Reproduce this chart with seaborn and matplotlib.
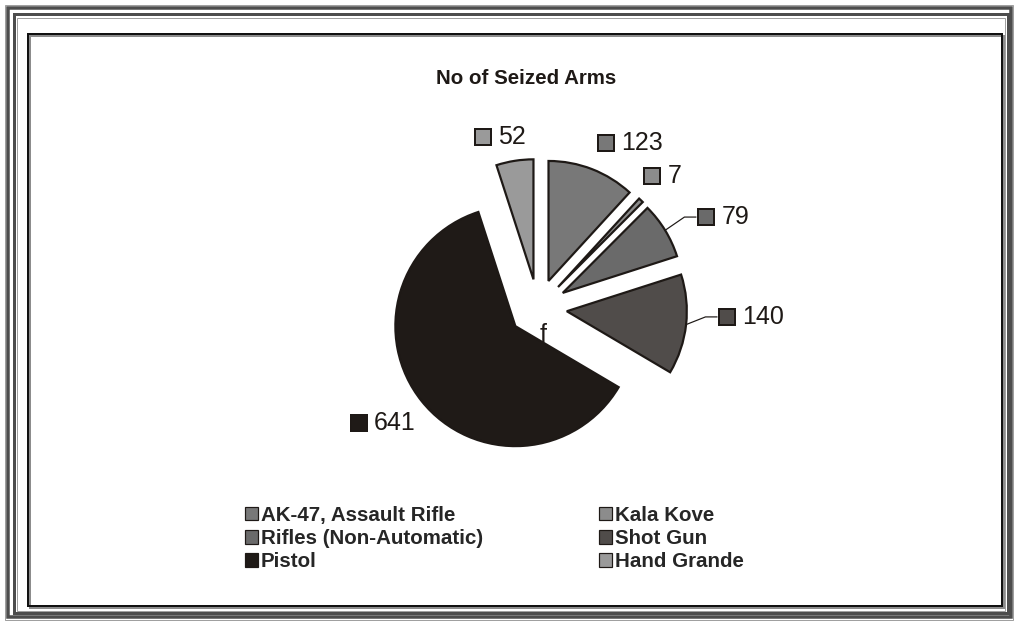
import numpy as np
import matplotlib
matplotlib.use("Agg")
import matplotlib.pyplot as plt
from matplotlib.patches import Rectangle, Patch
from matplotlib.offsetbox import AnnotationBbox, HPacker, TextArea, DrawingArea
import seaborn as sns

# Seized arms by type
categories = ["AK-47, Assault Rifle", "Kala Kove", "Rifles (Non-Automatic)",
              "Shot Gun", "Pistol", "Hand Grande"]
seized = [123, 7, 79, 140, 641, 52]
slice_colors = ["#787878", "#8c8c8c", "#6a6a6a", "#504c4a", "#1f1a17", "#9a9a9a"]
chart_title = "No of Seized Arms"

# label placement around the pie (radius multiples, clockwise turn in degrees)
label_dist = [1.57, 1.51, 1.72, 1.78, 1.61, 1.46]
label_turn = [7.9, -0.4, 5.3, -4.0, 2.1, -3.5]
with_leader = [False, False, True, True, False, False]

sns.set_theme(style="white")
plt.rcParams["font.family"] = ["Liberation Sans", "DejaVu Sans"]

INK = "#1e1916"
W, H, DPI = 1015, 621, 100
PT = 72 / DPI  # points per pixel

fig = plt.figure(figsize=(W / DPI, H / DPI), dpi=DPI)
fig.patch.set_facecolor("white")

# page frame, drawn in pixel units from the top-left corner
bg = fig.add_axes([0, 0, 1, 1])
bg.set_xlim(0, W)
bg.set_ylim(H, 0)
bg.axis("off")


def frame(x0, y0, x1, y1, color, lw_px):
    bg.add_patch(Rectangle((x0, y0), x1 - x0, y1 - y0, fill=False,
                           edgecolor=color, linewidth=lw_px * PT))


frame(5, 4.5, 1013.5, 619.5, "#a0a0a0", 1)
frame(8.5, 8, 1011.5, 616.5, "#4d4d4d", 3.5)
frame(14.5, 14, 1008, 613, "#4d4d4d", 3)
frame(17.5, 17.5, 1005.5, 610.5, "#a0a0a0", 1)
frame(30.5, 35.5, 1004, 608, "#8c8c8c", 2)
frame(28.5, 33.5, 1002, 606, "#111111", 2)

bg.text(526.5, 78, chart_title, ha="center", va="center", fontsize=14.8,
        fontweight="bold", color=INK)
bg.text(543, 335, "f", ha="center", va="center", fontsize=18, color=INK)

# pie axes: 1 data unit = R pixels
cx, cy, R = 538, 308, 120
half = 2.0
side = 2 * half * R
pie_ax = fig.add_axes([(cx - side / 2) / W, (H - cy - side / 2) / H, side / W, side / H])
explode = [29 / R] * len(seized)
wedges, _ = pie_ax.pie(seized, colors=slice_colors, explode=explode, startangle=90,
                       counterclock=False, radius=1,
                       wedgeprops=dict(edgecolor=INK, linewidth=2.2 * PT))
pie_ax.set_xlim(-half, half)
pie_ax.set_ylim(-half, half)
pie_ax.axis("off")

vals = np.asarray(seized, dtype=float)
frac = vals / vals.sum()
mid = (np.cumsum(frac) - frac / 2) * 360.0  # clockwise from 12 o'clock

boxes = []
for i, v in enumerate(seized):
    a = np.deg2rad(mid[i] + label_turn[i])
    x, y = label_dist[i] * np.sin(a), label_dist[i] * np.cos(a)
    key = DrawingArea(18 * PT, 18 * PT, 0, 0)
    key.add_artist(Rectangle((1 * PT, 1 * PT), 16 * PT, 16 * PT,
                             facecolor=slice_colors[i], edgecolor=INK,
                             linewidth=2 * PT))
    txt = TextArea(str(v), textprops=dict(fontsize=18, color=INK))
    pack = HPacker(children=[key, txt], align="center", pad=0, sep=6 * PT)
    ab = AnnotationBbox(pack, (x, y), xycoords="data", frameon=False,
                        box_alignment=(0.5, 0.5), pad=0)
    pie_ax.add_artist(ab)
    boxes.append(pack)

fig.canvas.draw()
renderer = fig.canvas.get_renderer()
inv = pie_ax.transData.inverted()
for i, pack in enumerate(boxes):
    if not with_leader[i]:
        continue
    bb = pack.get_window_extent(renderer)
    yc = (bb.y0 + bb.y1) / 2
    end = inv.transform((bb.x0 - 1, yc))
    elbow = inv.transform((bb.x0 - 13, yc))
    a = np.deg2rad(mid[i])
    ux, uy = np.sin(a), np.cos(a)
    tip = np.array([explode[i] * ux, explode[i] * uy])
    arc = tip + np.array([ux, uy])
    pie_ax.plot([arc[0], elbow[0], end[0]], [arc[1], elbow[1], end[1]],
                color=INK, linewidth=1.2 * PT, solid_capstyle="butt")

# legend reads row by row: two columns
order = [0, 2, 4, 1, 3, 5]
handles = [Patch(facecolor=slice_colors[i], edgecolor=INK, linewidth=1.2 * PT)
           for i in order]
labels = [categories[i] for i in order]
fig.legend(handles, labels, loc="upper left", bbox_to_anchor=(245 / W, 1 - 506 / H),
           ncol=2, frameon=False, borderpad=0, borderaxespad=0,
           handlelength=0.62, handleheight=0.62, handletextpad=0.15,
           columnspacing=5.65, labelspacing=0.2,
           prop=dict(weight="bold", size=14.8))

fig.savefig("out.png", dpi=DPI, facecolor="white")
